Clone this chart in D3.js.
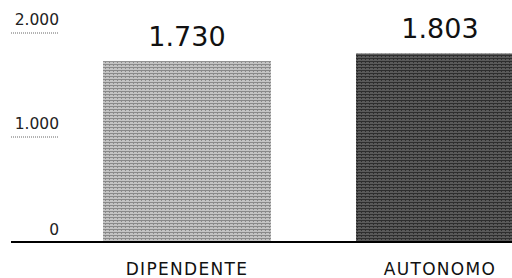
<!DOCTYPE html>
<html><head><meta charset="utf-8">
<script src="https://cdn.jsdelivr.net/npm/d3@7"></script>
<style>html,body{margin:0;padding:0;background:#fff;}svg{display:block;}</style>
</head><body>
<script>
const categories = ["DIPENDENTE", "AUTONOMO"];
const values = [1730, 1803];
const valueLabels = ["1.730", "1.803"];
const tickValues = [0, 1000, 2000];
const tickLabels = ["0", "1.000", "2.000"];

const W = 512, H = 278;
const svg = d3.select("body").append("svg").attr("width", W).attr("height", H);
const defs = svg.append("defs");
function pat(id, a, b) {
  const p = defs.append("pattern").attr("id", id).attr("patternUnits", "userSpaceOnUse")
    .attr("width", 4).attr("height", 3);
  p.append("rect").attr("width", 4).attr("height", 3).attr("fill", a);
  p.append("rect").attr("y", 1).attr("width", 4).attr("height", 1).attr("fill", b);
  p.append("rect").attr("x", 1).attr("y", 2).attr("width", 1).attr("height", 1).attr("fill", b);
}
pat("p0", "#c4c4c4", "#8a8a8a");
pat("p1", "#5a5a5a", "#2e2e2e");

const y = d3.scaleLinear().domain([0, 2000]).range([241, 33]);
const x = d3.scaleBand().domain(categories).range([103, 524]).paddingInner(0.336).paddingOuter(0);

// y tick labels
const yt = svg.append("g");
tickValues.forEach((v, i) => {
  yt.append("text").attr("x", 59).attr("y", y(v) - (v === 0 ? 6 : 8))
    .attr("text-anchor", "end").attr("font-family", "DejaVu Sans").attr("font-size", 15.5)
    .attr("fill", "#222").text(tickLabels[i]);
  if (v !== 0) {
    yt.append("line").attr("x1", 11).attr("x2", 59).attr("y1", y(v)).attr("y2", y(v))
      .attr("stroke", "#666").attr("stroke-width", 1).attr("stroke-dasharray", "1,1");
  }
});

// bars
svg.selectAll("rect.bar").data(values).join("rect").attr("class", "bar")
  .attr("x", (d, i) => x(categories[i])).attr("width", x.bandwidth())
  .attr("y", d => y(d)).attr("height", d => y(0) - y(d))
  .attr("fill", (d, i) => `url(#p${i})`);

// value labels
svg.selectAll("text.val").data(values).join("text").attr("class", "val")
  .attr("x", (d, i) => x(categories[i]) + x.bandwidth() / 2)
  .attr("y", d => y(d) - 15)
  .attr("text-anchor", "middle").attr("font-family", "DejaVu Sans").attr("font-size", 27)
  .attr("fill", "#111").text((d, i) => valueLabels[i]);

// baseline
svg.append("line").attr("x1", 11).attr("x2", W).attr("y1", 242).attr("y2", 242)
  .attr("stroke", "#000").attr("stroke-width", 2);

// category labels
svg.selectAll("text.cat").data(categories).join("text").attr("class", "cat")
  .attr("x", d => x(d) + x.bandwidth() / 2).attr("y", 275)
  .attr("text-anchor", "middle").attr("font-family", "DejaVu Sans").attr("font-size", 17)
  .attr("letter-spacing", 1.3).attr("fill", "#111").text(d => d);
</script>
</body></html>
